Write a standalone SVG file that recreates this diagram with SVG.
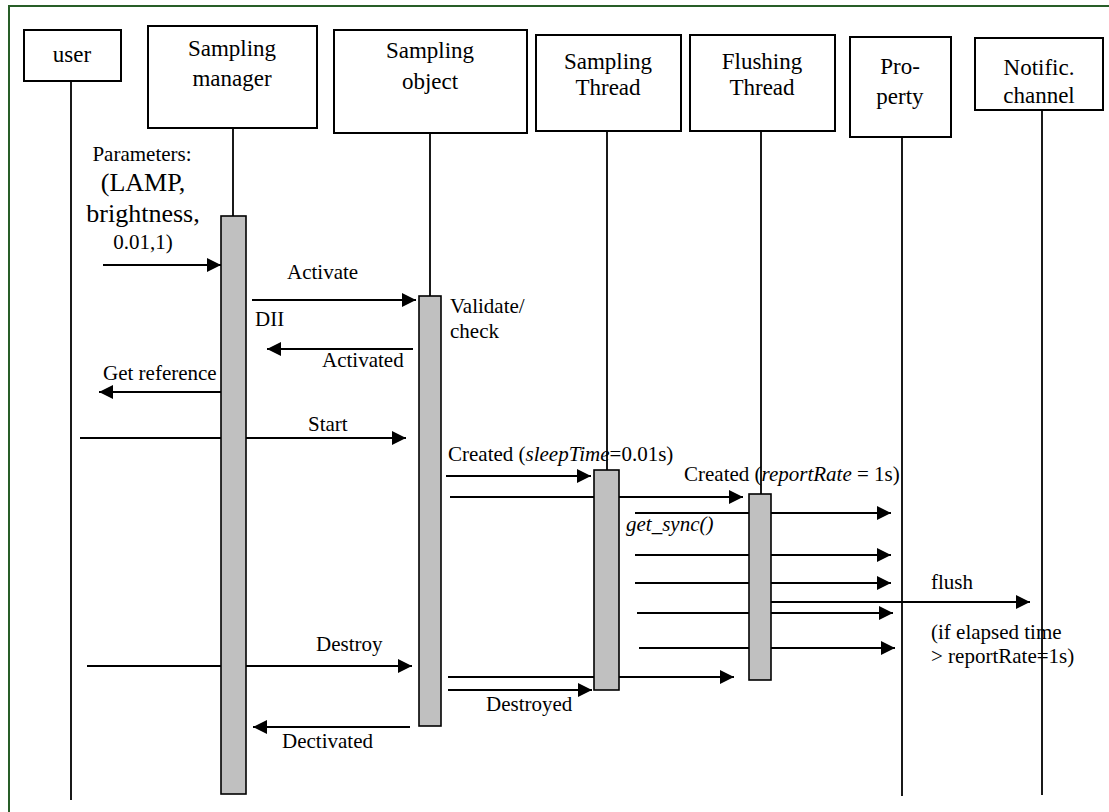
<svg xmlns="http://www.w3.org/2000/svg" width="1109" height="812" viewBox="0 0 1109 812" font-family="'Liberation Serif', 'Times New Roman', Times, serif">
<defs>
<marker id="ah" markerUnits="userSpaceOnUse" markerWidth="15" markerHeight="14" refX="14" refY="7" orient="auto">
<path d="M0,0 L14,7 L0,14 z" fill="#000"/>
</marker>
<style>
.box{fill:#fff;stroke:#000;stroke-width:2}
.life{stroke:#000;stroke-width:1.8;fill:none}
.bar{fill:#c0c0c0;stroke:#000;stroke-width:1.6}
.msg{stroke:#000;stroke-width:2;fill:none}
.arr{stroke:#000;stroke-width:2;fill:none;marker-end:url(#ah)}
text{font-family:'Liberation Serif', 'Times New Roman', Times, serif;fill:#000}
.bt{font-size:23px;text-anchor:middle}
.lb{font-size:21px}
.it{font-style:italic}
</style>
</defs>
<rect width="1109" height="812" fill="#fff"/>
<rect x="9" y="6" width="1110" height="820" fill="none" stroke="#285e28" stroke-width="2"/>

<g id="connectors">
<line class="arr" x1="103" y1="265" x2="221" y2="265"/>
<line class="arr" x1="252" y1="300" x2="416" y2="300"/>
<line class="arr" x1="413" y1="349" x2="267" y2="349"/>
<line class="arr" x1="223" y1="392" x2="99" y2="392"/>
<line class="arr" x1="80" y1="438" x2="406" y2="438"/>
<line class="arr" x1="446" y1="476" x2="591" y2="476"/>
<line class="arr" x1="450" y1="497" x2="743" y2="497"/>
<line class="msg" x1="635" y1="513" x2="750" y2="513"/>
<line class="arr" x1="771" y1="513" x2="891" y2="513"/>
<line class="arr" x1="635" y1="555" x2="891" y2="555"/>
<line class="arr" x1="635" y1="583" x2="891" y2="583"/>
<line class="arr" x1="771" y1="602" x2="1030" y2="602"/>
<line class="arr" x1="637" y1="613" x2="893" y2="613"/>
<line class="arr" x1="639" y1="648" x2="895" y2="648"/>
<line class="arr" x1="87" y1="666" x2="412" y2="666"/>
<line class="arr" x1="448" y1="677" x2="734" y2="677"/>
<line class="arr" x1="448" y1="690" x2="592" y2="690"/>
<line class="arr" x1="410" y1="727" x2="253" y2="727"/>
</g>

<g id="user">
<rect class="box" x="24" y="30" width="97" height="51"/>
<text class="bt" x="72" y="62">user</text>
<line class="life" x1="71" y1="81" x2="71" y2="800"/>
</g>

<g id="sampling-manager">
<rect class="box" x="148" y="26" width="169" height="102"/>
<text class="bt" x="232" y="56">Sampling</text>
<text class="bt" x="232" y="86">manager</text>
<line class="life" x1="233" y1="128" x2="233" y2="216"/>
<rect class="bar" x="221" y="216" width="25" height="578"/>
</g>

<g id="sampling-object">
<rect class="box" x="334" y="30" width="193" height="103"/>
<text class="bt" x="430" y="58">Sampling</text>
<text class="bt" x="430" y="89">object</text>
<line class="life" x1="430" y1="133" x2="430" y2="296"/>
<rect class="bar" x="419" y="296" width="22" height="430"/>
</g>

<g id="sampling-thread">
<rect class="box" x="536" y="35" width="145" height="96"/>
<text class="bt" x="608" y="69">Sampling</text>
<text class="bt" x="608" y="95">Thread</text>
<line class="life" x1="607" y1="131" x2="607" y2="470"/>
<rect class="bar" x="594" y="470" width="25" height="220"/>
</g>

<g id="flushing-thread">
<rect class="box" x="690" y="35" width="145" height="96"/>
<text class="bt" x="762" y="69">Flushing</text>
<text class="bt" x="762" y="95">Thread</text>
<line class="life" x1="761" y1="131" x2="761" y2="494"/>
<rect class="bar" x="749" y="494" width="22" height="186"/>
</g>

<g id="property">
<rect class="box" x="850" y="37" width="101" height="100"/>
<text class="bt" x="900" y="74">Pro-</text>
<text class="bt" x="900" y="104">perty</text>
<line class="life" x1="902" y1="137" x2="902" y2="796"/>
</g>

<g id="notific-channel">
<rect class="box" x="975" y="38" width="128" height="72"/>
<text class="bt" x="1039" y="75">Notific.</text>
<text class="bt" x="1039" y="103">channel</text>
<line class="life" x1="1042" y1="110" x2="1042" y2="795"/>
</g>

<g id="labels">
<text class="lb" x="142" y="161" style="text-anchor:middle">Parameters:</text>
<text x="143" y="191" style="font-size:26px;text-anchor:middle">(LAMP,</text>
<text x="143" y="222" style="font-size:26px;text-anchor:middle">brightness,</text>
<text class="lb" x="143" y="249" style="text-anchor:middle">0.01,1)</text>
<text class="lb" x="287" y="279">Activate</text>
<text class="lb" x="255" y="326">DII</text>
<text class="lb" x="450" y="313">Validate/</text>
<text class="lb" x="450" y="338">check</text>
<text class="lb" x="322" y="367">Activated</text>
<text class="lb" x="103" y="380">Get reference</text>
<text class="lb" x="308" y="431">Start</text>
<text class="lb" x="448" y="461">Created (<tspan class="it">sleepTime</tspan>=0.01s)</text>
<text class="lb" x="684" y="481">Created (<tspan class="it">reportRate</tspan> = 1s)</text>
<text class="lb it" x="626" y="531">get_sync()</text>
<text class="lb" x="931" y="589">flush</text>
<text class="lb" x="931" y="639">(if elapsed time</text>
<text class="lb" x="931" y="663">&gt; reportRate=1s)</text>
<text class="lb" x="316" y="651">Destroy</text>
<text class="lb" x="486" y="711">Destroyed</text>
<text class="lb" x="282" y="748">Dectivated</text>
</g>
</svg>
